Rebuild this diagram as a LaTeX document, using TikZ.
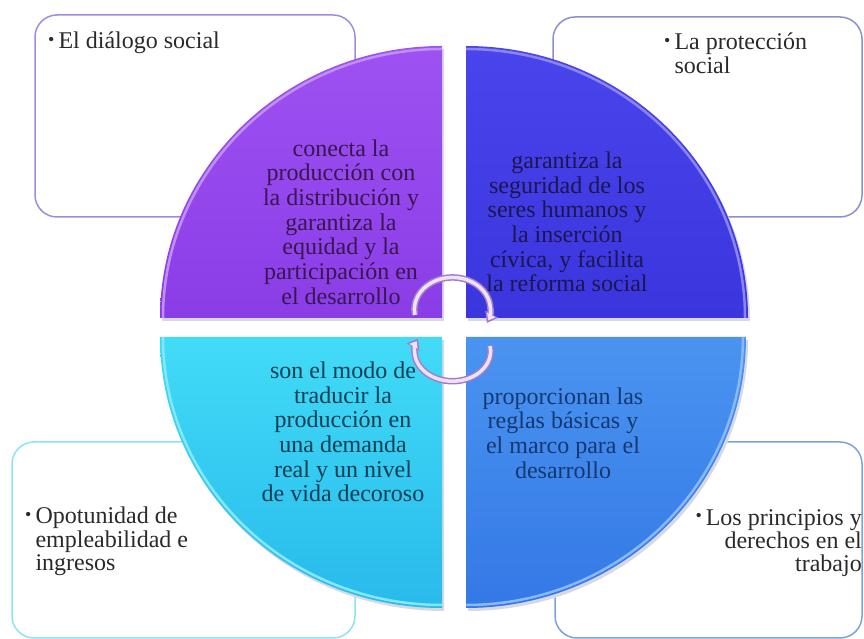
\documentclass[tikz,border=0pt]{standalone}
\usepackage{fontspec}
\setmainfont{Liberation Serif}
\newfontfamily\tnr{Liberation Serif}
\usetikzlibrary{arrows.meta}
\definecolor{tlA}{HTML}{9E52F2}
\definecolor{tlB}{HTML}{8A3DE6}
\definecolor{trA}{HTML}{4A44EC}
\definecolor{trB}{HTML}{3A35DC}
\definecolor{blA}{HTML}{42DBF7}
\definecolor{blB}{HTML}{28BAEC}
\definecolor{brA}{HTML}{4A94F0}
\definecolor{brB}{HTML}{3478E6}
\definecolor{tlT}{HTML}{3A1650}
\definecolor{trT}{HTML}{1C1650}
\definecolor{blT}{HTML}{073E52}
\definecolor{brT}{HTML}{163870}
\definecolor{tlBorder}{HTML}{A28BDF}
\definecolor{trBorder}{HTML}{8C90D0}
\definecolor{blBorder}{HTML}{8EE2F2}
\definecolor{brBorder}{HTML}{7AA2DE}
\definecolor{boxText}{HTML}{2A2A2A}
\definecolor{arrOut}{HTML}{A47CCB}
\definecolor{arrIn}{HTML}{EEE2F8}
\definecolor{shadowC}{HTML}{D8D8E0}
\newcommand{\bulmark}{{\fontsize{18}{18}\selectfont\raisebox{0.18em}{•}}}
\begin{document}
\begin{tikzpicture}[x=1pt,y=1pt,
  infobox/.style={line width=1.5pt, fill=white, rounded corners=22pt},
  qtext/.style={font=\tnr\fontsize{24}{24.7}\selectfont, align=center, inner sep=0pt},
  btext/.style={font=\tnr\fontsize{24}{23.3}\selectfont, text=boxText, inner sep=0pt},
  rim/.style={line width=2.5pt},
  arrouter/.style={arrOut, line width=6.5pt, -{Triangle[length=10pt,width=14pt]}},
  arrinner/.style={arrIn, line width=3.5pt, shorten >=3pt, -{Triangle[length=6pt,width=9pt]}}]
\useasboundingbox (0,0) rectangle (864,639);
\fill[white] (0,0) rectangle (864,639);

% background boxes
\draw[infobox, draw=tlBorder] (35,422) rectangle (355,624);
\draw[infobox, draw=trBorder] (553,422) rectangle (862,622);
\draw[infobox, draw=blBorder] (12,1) rectangle (355,197);
\draw[infobox, draw=brBorder] (555,1) rectangle (862,197);

% shadows
\fill[shadowC] (444,318) -- (162,318) arc[start angle=180, end angle=90, x radius=282, y radius=272] -- cycle;
\fill[shadowC] (468,318) -- (468,590) arc[start angle=90, end angle=0, x radius=282, y radius=272] -- cycle;
\fill[shadowC] (444,299) -- (162,299) arc[start angle=180, end angle=270, x radius=282, y radius=271] -- cycle;
\fill[shadowC] (468,299) -- (468,28) arc[start angle=270, end angle=360, x radius=280, y radius=271] -- cycle;

% quadrants
\shade[top color=tlA, bottom color=tlB]
  (442,321) -- (160,321) arc[start angle=180, end angle=90, x radius=282, y radius=272] -- cycle;
\shade[top color=trA, bottom color=trB]
  (466,321) -- (466,593) arc[start angle=90, end angle=0, x radius=282, y radius=272] -- cycle;
\shade[top color=blA, bottom color=blB]
  (442,302) -- (160,302) arc[start angle=180, end angle=270, x radius=282, y radius=271] -- cycle;
\shade[top color=brA, bottom color=brB]
  (466,302) -- (466,31) arc[start angle=270, end angle=360, x radius=280, y radius=271] -- cycle;

\draw[rim, draw=tlA!65!white] (163,321) arc[start angle=180, end angle=90, x radius=279, y radius=269];
\draw[rim, draw=trA!65!white] (466,590) arc[start angle=90, end angle=0, x radius=279, y radius=269];
\draw[rim, draw=blA!65!white] (163,302) arc[start angle=180, end angle=270, x radius=279, y radius=268];
\draw[rim, draw=brA!65!white] (466,34) arc[start angle=270, end angle=360, x radius=277, y radius=268];

% quadrant texts
\node[qtext, text=tlT] (tltext) at (341,417) {conecta la\\producción con\\la distribución y\\garantiza la\\equidad y la\\participación en\\el desarrollo};
\node[qtext, text=trT] (trtext) at (567,417) {garantiza la\\seguridad de los\\seres humanos y\\la inserción\\cívica, y facilita\\la reforma social};
\node[qtext, text=blT] (bltext) at (343,207) {son el modo de\\traducir la\\producción en\\una demanda\\real y un nivel\\de vida decoroso};
\node[qtext, text=brT] (brtext) at (563,206) {proporcionan las\\reglas básicas y\\el marco para el\\desarrollo};

% box texts
\node[btext, anchor=base west] (tlbox) at (48,590) {\bulmark\,El diálogo social};
\node[btext, anchor=north west] (trbox) at (664,606)
  {\begin{tabular}{@{}l@{\,}l@{}}\bulmark & La protección\\ & social\end{tabular}};
\node[btext, anchor=north west] (blbox) at (25,132)
  {\begin{tabular}{@{}l@{\,}l@{}}\bulmark & Opotunidad de\\ & empleabilidad e\\ & ingresos\end{tabular}};
\node[btext, anchor=north east, align=right] (brbox) at (862,130)
  {\bulmark\,Los principios y\\derechos en el\\trabajo};

% circular arrows
\coordinate (a1s) at (415,324);
\coordinate (a2s) at (490,293);
\draw[arrouter] (a1s) arc[start angle=190, end angle=-25, x radius=38, y radius=32];
\draw[arrinner] (a1s) arc[start angle=190, end angle=-25, x radius=38, y radius=32];
\draw[arrouter] (a2s) arc[start angle=10, end angle=-205, x radius=38, y radius=30];
\draw[arrinner] (a2s) arc[start angle=10, end angle=-205, x radius=38, y radius=30];
\end{tikzpicture}
\end{document}
